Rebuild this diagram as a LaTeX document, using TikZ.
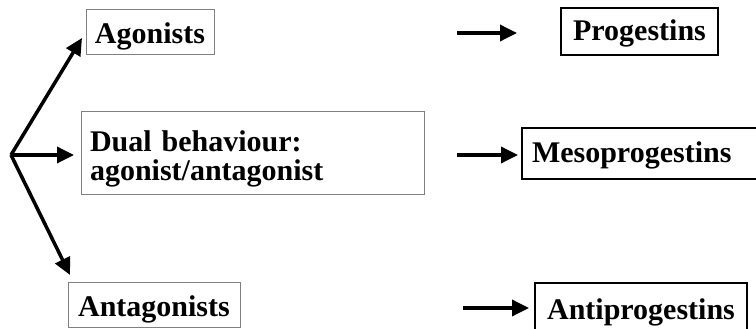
\documentclass[tikz,border=0pt]{standalone}
\usepackage{fontspec}
\setmainfont{Liberation Serif}
\usetikzlibrary{arrows.meta}
\begin{document}
\begin{tikzpicture}[x=1pt,y=1pt,
  every node/.style={font=\fontsize{30}{29.5}\selectfont\bfseries, inner sep=0pt},
  leftbox/.style={draw=black!50, line width=1pt, minimum height=45pt},
  rightbox/.style={draw=black, line width=2.5pt, minimum height=49pt},
  arr/.style={line width=3.5pt, -{Triangle[length=17pt,width=16pt]}}]
\useasboundingbox (0,0) rectangle (756,329);
\clip (0,0) rectangle (756,329);
% left boxes
\node[leftbox, minimum width=128pt, text height=26pt, text depth=3pt] (agon) at (150,296.5) {Agonists};
\node[leftbox, minimum width=343pt, minimum height=83pt, text width=325pt, align=left] (dual) at (252.5,175.5) {\rule{0pt}{32pt}Dual behaviour:\\agonist/antagonist};
\node[leftbox, minimum width=172pt, text height=26pt, text depth=3pt] (antag) at (154,23.5) {Antagonists};
% right boxes
\node[rightbox, minimum width=157pt, minimum height=47pt, text height=22pt, text depth=3pt] (prog) at (639.5,297.5) {Progestins};
\node[rightbox, minimum width=250pt, minimum height=51pt, text width=230pt, align=left, text height=22pt, text depth=3pt] (meso) at (647,175.5) {Mesoprogestins};
\node[rightbox, minimum width=212pt, text height=28pt, text depth=3pt] (anti) at (641,21.5) {Antiprogestins};
% connector ends
\coordinate (o) at (11,174);
\coordinate (t1) at (82,291);
\coordinate (t2) at (74,174);
\coordinate (t3) at (70,54);
\coordinate (a1s) at (457,296);
\coordinate (a1e) at (517,296);
\coordinate (a2s) at (457,174);
\coordinate (a2e) at (518,174);
\coordinate (a3s) at (463,21);
\coordinate (a3e) at (529,21);
% arrows
\draw[arr] (o) -- (t1);
\draw[arr] (o) -- (t2);
\draw[arr] (o) -- (t3);
\draw[arr] (a1s) -- (a1e);
\draw[arr] (a2s) -- (a2e);
\draw[arr] (a3s) -- (a3e);
\end{tikzpicture}
\end{document}
